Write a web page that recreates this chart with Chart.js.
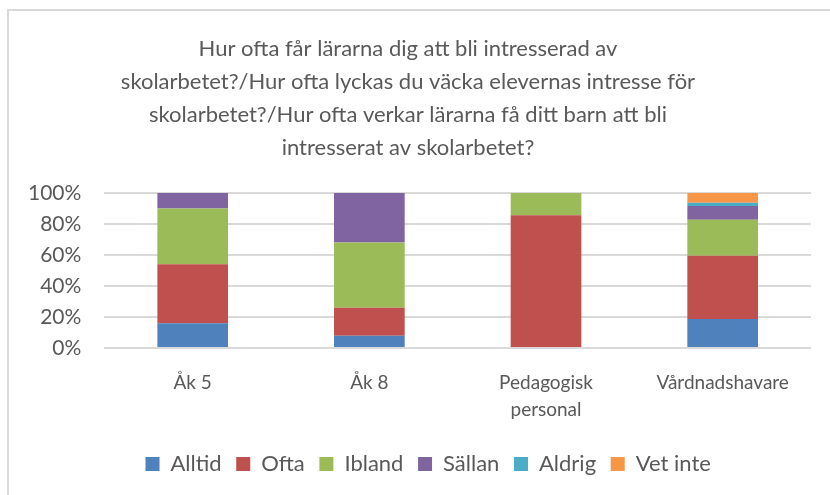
<!DOCTYPE html>
<html>
<head>
<meta charset="utf-8">
<script src="https://cdn.jsdelivr.net/npm/chart.js@4"></script>
<style>
  html, body { margin: 0; padding: 0; background: #fff; overflow: hidden; }
  #frame { position: absolute; left: 7px; top: 9px; width: 900px; height: 600px; border: 2px solid #d9d9d9; }
  #wrap { position: absolute; left: 0; top: 0; width: 830px; height: 495px; }
</style>
</head>
<body>
<div id="frame"></div>
<div id="wrap"><canvas id="chart"></canvas></div>
<script>
// categories and values (percent of answers)
const categories = ["Åk 5", "Åk 8", ["Pedagogisk", "personal"], "Vårdnadshavare"];
const alltid  = [16, 8, 0, 18.7];
const ofta    = [38, 18, 85.7, 40.8];
const ibland  = [36, 42, 14.3, 23.2];
const sallan  = [10, 32, 0, 8.9];
const aldrig  = [0, 0, 0, 2.1];
const vetInte = [0, 0, 0, 6.3];
const yTicks = [0, 20, 40, 60, 80, 100];

const titleLines = [
  "Hur ofta får lärarna dig att bli intresserad av",
  "skolarbetet?/Hur ofta lyckas du väcka elevernas intresse för",
  "skolarbetet?/Hur ofta verkar lärarna få ditt barn att bli",
  "intresserat av skolarbetet?"
];

const textColor = "#595959";
const fontFam = "Lato, 'Open Sans', sans-serif";

const mk = (label, data, color) => ({
  label, data, backgroundColor: color, borderWidth: 0,
  barPercentage: 0.4, categoryPercentage: 1.0
});

// the original chart is cropped on the right, so its legend sits a bit right of centre
const legendShift = {
  id: "legendShift",
  afterLayout(chart) {
    chart.legend.left += 23;
    chart.legend.right += 23;
  }
};

new Chart(document.getElementById("chart"), {
  type: "bar",
  data: {
    labels: categories,
    datasets: [
      mk("Alltid", alltid, "#4F81BD"),
      mk("Ofta", ofta, "#C0504D"),
      mk("Ibland", ibland, "#9BBB59"),
      mk("Sällan", sallan, "#8064A2"),
      mk("Aldrig", aldrig, "#4BACC6"),
      mk("Vet inte", vetInte, "#F79646")
    ]
  },
  plugins: [legendShift],
  options: {
    responsive: true,
    maintainAspectRatio: false,
    animation: false,
    layout: { padding: { left: 5, right: 19, top: 32, bottom: 10 } },
    plugins: {
      title: {
        display: true,
        text: titleLines,
        color: textColor,
        font: { family: fontFam, size: 22, weight: "normal", lineHeight: 1.5 },
        padding: { top: 0, bottom: 29 }
      },
      legend: {
        position: "bottom",
        labels: {
          color: textColor,
          font: { family: fontFam, size: 22 },
          boxWidth: 14,
          boxHeight: 14,
          padding: 9,
          // a trailing space widens the gap between items a little
          generateLabels: chart =>
            Chart.defaults.plugins.legend.labels.generateLabels(chart)
              .map(l => ({ ...l, text: l.text + " " }))
        }
      },
      tooltip: { enabled: false }
    },
    scales: {
      x: {
        stacked: true,
        grid: { display: false, drawTicks: false },
        border: { display: false },
        ticks: {
          color: textColor,
          font: { family: fontFam, size: 19, lineHeight: 1.42 },
          padding: 21,
          maxRotation: 0
        }
      },
      y: {
        stacked: true,
        min: 0,
        max: 100,
        afterBuildTicks: axis => { axis.ticks = yTicks.map(v => ({ value: v })); },
        grid: { color: "#d9d9d9", lineWidth: 2, drawTicks: false },
        border: { display: false },
        ticks: {
          color: textColor,
          font: { family: fontFam, size: 21 },
          padding: 23,
          callback: v => v + "%"
        }
      }
    }
  }
});
</script>
</body>
</html>
